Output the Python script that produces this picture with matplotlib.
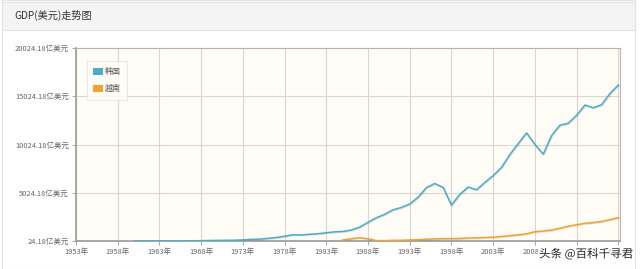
import numpy as np
import matplotlib
import matplotlib.pyplot as plt
import matplotlib.patches as mpatches
import matplotlib.patheffects as pe

matplotlib.use('Agg')
plt.rcParams['font.family'] = ['Noto Sans CJK SC', 'DejaVu Sans']

# GDP, 亿美元
korea_years = list(range(1960, 2019))
korea_gdp = [40, 24, 28, 40, 35, 31, 39, 49, 61, 77,
             90, 99, 108, 138, 195, 217, 298, 384, 520, 668,
             654, 724, 780, 877, 975, 1013, 1161, 1461, 1965, 2435,
             2793, 3257, 3501, 3863, 4556, 5561, 5981, 5575, 3742, 4852,
             5616, 5331, 6090, 6805, 7649, 8981, 10118, 11227, 10022, 9019,
             10945, 12025, 12228, 13056, 14113, 13828, 14148, 15308, 16194]
vietnam_years = list(range(1985, 2019))
vietnam_gdp = [141, 263, 367, 254, 63, 65, 96, 99, 132, 163,
               207, 247, 268, 272, 287, 336, 353, 380, 427, 494,
               576, 664, 774, 991, 1060, 1159, 1355, 1558, 1712, 1862,
               1932, 2053, 2238, 2452]
series_names = ['韩国', '越南']
series_colors = ['#4bacc6', '#f0a330']

y_ticks = [24.18 + 5000 * i for i in range(5)]
x_ticks = list(range(1953, 2019, 5))

fig = plt.figure(figsize=(6.4, 2.69), dpi=100)
fig.patch.set_facecolor('white')

# card frame + header band (behind the axes)
fig.add_artist(mpatches.Rectangle((2 / 640, 0), 633 / 640, 1, transform=fig.transFigure,
                                  facecolor='white', edgecolor='#e4e4e4', lw=0.8, zorder=-2))
fig.add_artist(mpatches.Rectangle((2 / 640, 1 - 30 / 269), 633 / 640, 28 / 269,
                                  transform=fig.transFigure, facecolor='#f4f4f4',
                                  edgecolor='#e2e2e2', lw=0.8, zorder=-1))
fig.text(14 / 640, 1 - 15.5 / 269, 'GDP(美元)走势图', fontsize=7.3, color='#333333', va='center')

ax = fig.add_axes([76 / 640, 1 - 241 / 269, 544 / 640, 193 / 269])
ax.set_facecolor('#fffdf6')

shadow = [pe.SimpleLineShadow(offset=(0.6, -0.6), alpha=0.12, shadow_color='black'), pe.Normal()]
ax.plot(korea_years, korea_gdp, color=series_colors[0], lw=1.1, path_effects=shadow, zorder=3)
ax.plot(vietnam_years, vietnam_gdp, color=series_colors[1], lw=1.1, path_effects=shadow, zorder=3)

ax.set_xlim(1953, 2018.2)
ax.set_ylim(24.18, 20024.18)
ax.set_xticks(x_ticks)
ax.set_xticklabels([f'{y}年' for y in x_ticks])
ax.set_yticks(y_ticks)
ax.set_yticklabels([f'{v:.2f}亿美元' for v in y_ticks])
ax.tick_params(labelsize=5.4, colors='#666666', length=3, width=0.6, pad=2, color='#999999')
ax.grid(True, color='#d9d6cd', lw=0.8)
ax.set_axisbelow(True)
for side in ['left', 'bottom']:
    ax.spines[side].set_color('#9a9a9a')
    ax.spines[side].set_linewidth(1.2)
for side in ['top', 'right']:
    ax.spines[side].set_color('#b5b5b5')
    ax.spines[side].set_linewidth(0.8)

handles = [mpatches.Patch(facecolor=c, edgecolor='none') for c in series_colors]
leg = ax.legend(handles, series_names, loc='upper left', bbox_to_anchor=(0.012, 0.955),
                fontsize=5.8, frameon=True, fancybox=False, handlelength=1.3, handleheight=1.1,
                handletextpad=0.1, labelspacing=1.0, borderpad=0.8, labelcolor='#555555')
leg.get_frame().set_edgecolor('#dddddd')
leg.get_frame().set_linewidth(0.6)
leg.get_frame().set_facecolor('#fffdf6')

# watermark
fig.text(539 / 640, 1 - 254 / 269, '头条 @百科千寻君', fontsize=8.3, color='#222222', va='center',
         path_effects=[pe.withStroke(linewidth=2.5, foreground='white')])

fig.savefig('out.png', dpi=100)
